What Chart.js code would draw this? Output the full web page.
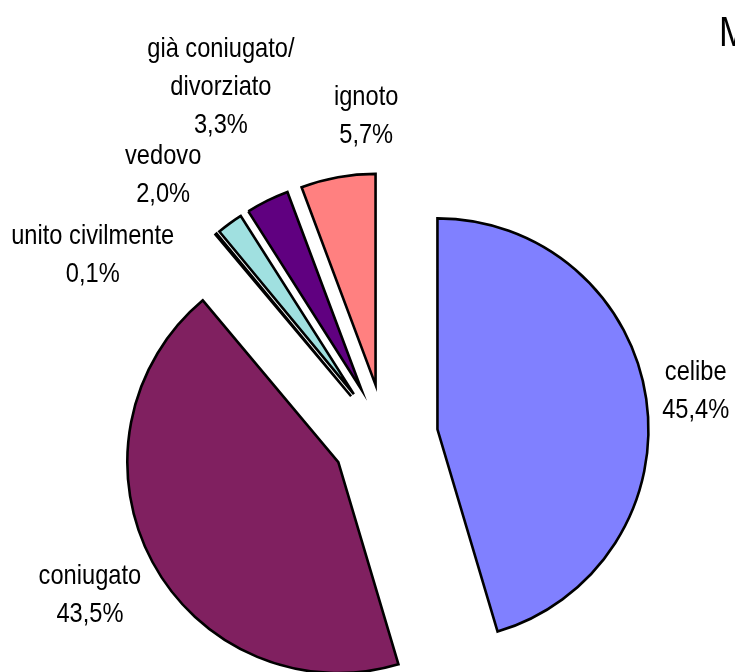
<!DOCTYPE html>
<html>
<head>
<meta charset="utf-8">
<script src="https://cdn.jsdelivr.net/npm/chart.js@4/dist/chart.umd.min.js"></script>
<style>
  html, body { margin: 0; padding: 0; background: #fff; }
  #wrap { width: 735px; height: 672px; }
</style>
</head>
<body>
<div id="wrap"><canvas id="pie"></canvas></div>
<script>
// data
const categories = ["celibe", "coniugato", "unito civilmente", "vedovo", "già coniugato/\ndivorziato", "ignoto"];
const percentages = [45.4, 43.5, 0.1, 2.0, 3.3, 5.7];
const colors = ["#8080FF", "#802060", "#FFFFC0", "#A0E0E0", "#600080", "#FF8080"];

// label placement: distance from centre and angle nudge (degrees)
const labelDist = [314, 335, 344, 343, 386, 321];
const labelShift = [0, 0, -18.4, -4.3, 1.3, 6.9];
const explode = 53;
const fontFamily = "'Liberation Sans', Arial, sans-serif";
const squeeze = 0.845; // narrow look of the original font

const explodePlugin = {
  id: "explode",
  beforeDatasetDraw(chart, args) {
    const ctx = chart.ctx;
    args.meta.data.forEach(arc => {
      const mid = (arc.startAngle + arc.endAngle) / 2;
      ctx.save();
      ctx.translate(Math.cos(mid) * explode, Math.sin(mid) * explode);
      arc.draw(ctx);
      ctx.restore();
    });
    return false;
  }
};

const labelPlugin = {
  id: "labels",
  afterDraw(chart) {
    const ctx = chart.ctx;
    const meta = chart.getDatasetMeta(0);
    const total = percentages.reduce((a, b) => a + b, 0);
    ctx.save();
    ctx.fillStyle = "#000";
    ctx.textAlign = "center";
    ctx.textBaseline = "middle";
    ctx.font = "28px " + fontFamily;
    meta.data.forEach((arc, i) => {
      const mid = (arc.startAngle + arc.endAngle) / 2 + labelShift[i] * Math.PI / 180;
      const x = arc.x + Math.cos(mid) * labelDist[i];
      const y = arc.y + Math.sin(mid) * labelDist[i];
      const pct = (percentages[i] / total * 100).toFixed(1).replace(".", ",") + "%";
      const lines = categories[i].split("\n").concat([pct]);
      const lh = 38;
      lines.forEach((t, k) => {
        ctx.save();
        ctx.translate(x, y + (k - (lines.length - 1) / 2) * lh);
        ctx.scale(squeeze, 1);
        ctx.fillText(t, 0, 0);
        ctx.restore();
      });
    });
    // title, cut off at the right edge
    ctx.textAlign = "left";
    ctx.textBaseline = "alphabetic";
    ctx.font = "42px " + fontFamily;
    ctx.translate(719, 46);
    ctx.scale(squeeze, 1);
    ctx.fillText("Maschi", 0, 0);
    ctx.restore();
  }
};

new Chart(document.getElementById("pie"), {
  type: "pie",
  data: {
    labels: categories,
    datasets: [
      {
        data: percentages,
        backgroundColor: colors,
        borderColor: "#000",
        borderWidth: 2.6,
        borderJoinStyle: "miter"
      }
    ]
  },
  options: {
    responsive: true,
    maintainAspectRatio: false,
    animation: false,
    radius: 211,
    layout: { padding: { left: 35, right: 0, top: 202, bottom: 0 } },
    plugins: {
      legend: { display: false },
      tooltip: { enabled: false }
    }
  },
  plugins: [explodePlugin, labelPlugin]
});
</script>
</body>
</html>
